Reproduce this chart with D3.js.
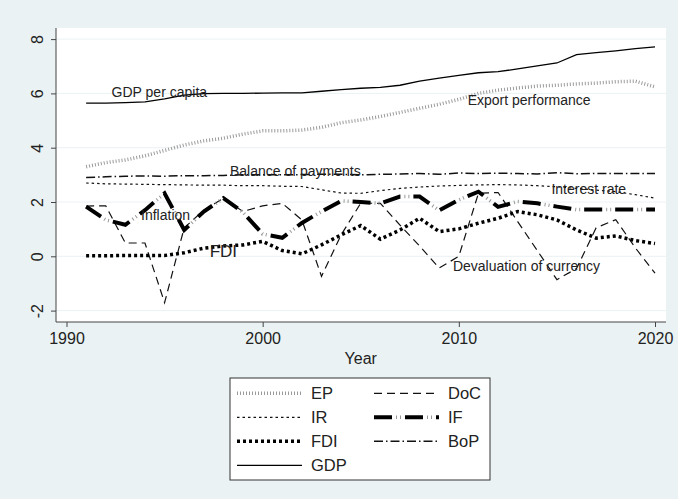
<!DOCTYPE html>
<html>
<head>
<meta charset="utf-8">
<script src="https://cdn.jsdelivr.net/npm/d3@7"></script>
<style>
  html, body { margin: 0; padding: 0; background: #eaf2f3; }
  svg { display: block; font-family: "Liberation Sans", Arial, sans-serif; }
</style>
</head>
<body>
<svg id="chart" width="678" height="499"></svg>
<script>
// Annual series, 1991-2020
const years = [1991,1992,1993,1994,1995,1996,1997,1998,1999,2000,
               2001,2002,2003,2004,2005,2006,2007,2008,2009,2010,
               2011,2012,2013,2014,2015,2016,2017,2018,2019,2020];

const EP  = [3.30,3.45,3.55,3.70,3.90,4.10,4.25,4.35,4.50,4.62,
             4.62,4.65,4.75,4.92,5.02,5.15,5.30,5.45,5.60,5.78,
             6.00,6.12,6.20,6.27,6.30,6.35,6.38,6.43,6.45,6.24];
const DoC = [1.85,1.86,0.49,0.49,-1.71,1.05,1.70,2.14,1.65,1.86,
             1.95,1.34,-0.74,0.79,1.96,1.95,1.15,0.38,-0.43,0.00,
             2.32,2.35,1.28,0.21,-0.86,-0.45,1.05,1.35,0.31,-0.62];
const IR  = [2.70,2.67,2.66,2.65,2.64,2.63,2.62,2.62,2.60,2.60,
             2.58,2.57,2.45,2.33,2.32,2.42,2.50,2.55,2.59,2.61,
             2.63,2.64,2.63,2.60,2.56,2.50,2.44,2.38,2.27,2.14];
const IF  = [1.83,1.34,1.16,1.70,2.32,0.97,1.65,2.14,1.62,0.82,
             0.68,1.23,1.65,2.04,2.00,1.95,2.20,2.20,1.69,2.08,
             2.38,1.82,2.02,1.95,1.83,1.72,1.72,1.72,1.72,1.72];
const FDI = [0.02,0.02,0.03,0.03,0.03,0.13,0.30,0.38,0.42,0.55,
             0.21,0.09,0.42,0.79,1.13,0.63,0.97,1.40,0.91,1.01,
             1.22,1.40,1.65,1.53,1.34,0.97,0.67,0.75,0.58,0.47];
const BoP = [2.90,2.93,2.95,2.96,2.95,2.97,2.97,2.98,3.00,3.00,
             3.00,3.01,3.02,3.02,3.00,3.02,3.03,3.05,3.02,3.07,
             3.05,3.06,3.05,3.03,3.08,3.04,3.05,3.05,3.05,3.05];
const GDP = [5.64,5.64,5.66,5.69,5.80,5.94,5.99,6.00,6.00,6.01,
             6.02,6.02,6.08,6.14,6.19,6.22,6.30,6.45,6.56,6.66,
             6.76,6.80,6.90,7.01,7.12,7.43,7.50,7.57,7.65,7.71];

const xTicks = [1990, 2000, 2010, 2020];
const yTicks = [-2, 0, 2, 4, 6, 8];

// In-plot annotations: text placed at (year, value)
const annoText  = ["GDP per capita", "Export performance", "Balance of payments",
                   "Interest rate", "Inflation", "FDI", "Devaluation of currency"];
const annoYear  = [1992.3, 2010.45, 1998.33, 2014.72, 1993.8, 1997.3, 2009.7];
const annoValue = [5.85, 5.57, 2.96, 2.31, 1.32, -0.03, -0.54];
const annoSize  = [14, 14, 14, 14, 14, 17, 14];

// Line styles per series
const styles = {
  EP:  [{stroke: "#9a9a9a", width: 3.5, dash: "1 2"}],
  DoC: [{stroke: "#111",    width: 1.2, dash: "8 5"}],
  IR:  [{stroke: "#111",    width: 1.2, dash: "2.5 3"}],
  IF:  [{stroke: "#000",    width: 4,   dash: "18 13"},
        {stroke: "#999",    width: 3.5, dash: "0 22 1 3 1 4"}],
  FDI: [{stroke: "#000",    width: 3.5, dash: "3 3"}],
  BoP: [{stroke: "#111",    width: 1.5, dash: "9 3 1.5 3"}],
  GDP: [{stroke: "#000",    width: 1.3, dash: null}]
};
const seriesData = {EP, DoC, IR, IF, FDI, BoP, GDP};

const svg = d3.select("#chart");
svg.append("rect").attr("width", 678).attr("height", 499).attr("fill", "#eaf2f3");

const x = d3.scaleLinear().domain([1990, 2020]).range([66.5, 655]);
const y = d3.scaleLinear().domain([-2, 8]).range([310.6, 39.1]);

// plot region
const plotL = 56, plotR = 666, plotT = 28, plotB = 322;
svg.append("rect").attr("x", plotL).attr("y", plotT)
  .attr("width", plotR - plotL).attr("height", plotB - plotT).attr("fill", "#fff");

// horizontal grid
svg.append("g").selectAll("line").data(yTicks).join("line")
  .attr("x1", plotL).attr("x2", plotR)
  .attr("y1", d => y(d)).attr("y2", d => y(d))
  .attr("stroke", "#eaf2f3").attr("stroke-width", 1);

// axes (plain hyphen for negatives)
const fmt = d => String(d);
const yAxis = svg.append("g").attr("transform", `translate(${plotL},0)`)
  .call(d3.axisLeft(y).tickValues(yTicks).tickSize(5).tickFormat(fmt));
yAxis.select(".domain").attr("d", `M0,${plotT}V${plotB}`).attr("stroke", "#444");
yAxis.selectAll(".tick line").attr("stroke", "#444");
yAxis.selectAll(".tick text")
  .attr("font-size", 16).attr("fill", "#222")
  .attr("x", null).attr("dy", null)
  .attr("text-anchor", "middle")
  .attr("transform", "translate(-13,0) rotate(-90)");

const xAxis = svg.append("g").attr("transform", `translate(0,${plotB})`)
  .call(d3.axisBottom(x).tickValues(xTicks).tickSize(5).tickFormat(fmt));
xAxis.select(".domain").attr("d", `M${plotL},0H${plotR}`).attr("stroke", "#444");
xAxis.selectAll(".tick line").attr("stroke", "#444");
xAxis.selectAll(".tick text").attr("font-size", 16).attr("fill", "#222").attr("y", 11);

svg.append("text").attr("x", x(2005)).attr("y", 364)
  .attr("text-anchor", "middle").attr("font-size", 16).attr("fill", "#222").text("Year");

// series lines
const line = d3.line().x((d, i) => x(years[i])).y(d => y(d));
const order = ["EP", "DoC", "IR", "IF", "FDI", "BoP", "GDP"];
const gLines = svg.append("g");
order.forEach(k => {
  styles[k].forEach(s => {
    gLines.append("path").datum(seriesData[k])
      .attr("d", line).attr("fill", "none")
      .attr("stroke", s.stroke).attr("stroke-width", s.width)
      .attr("stroke-dasharray", s.dash);
  });
});

// annotations
svg.append("g").selectAll("text").data(annoText).join("text")
  .attr("x", (d, i) => x(annoYear[i])).attr("y", (d, i) => y(annoValue[i]))
  .attr("font-size", (d, i) => annoSize[i]).attr("fill", "#222").text(d => d);

// legend
const leg = svg.append("g");
leg.append("rect").attr("x", 230).attr("y", 378).attr("width", 260).attr("height", 102)
  .attr("fill", "#fff").attr("stroke", "#333").attr("stroke-width", 1);
const legItems = [
  {key: "EP",  col: 0, row: 0}, {key: "DoC", col: 1, row: 0},
  {key: "IR",  col: 0, row: 1}, {key: "IF",  col: 1, row: 1},
  {key: "FDI", col: 0, row: 2}, {key: "BoP", col: 1, row: 2},
  {key: "GDP", col: 0, row: 3}
];
const colX = [237, 374], rowY0 = 393.3, rowStep = 24;
legItems.forEach(it => {
  const cy = rowY0 + it.row * rowStep, x0 = colX[it.col];
  styles[it.key].forEach(s => {
    leg.append("line").attr("x1", x0).attr("x2", x0 + 65).attr("y1", cy).attr("y2", cy)
      .attr("stroke", s.stroke).attr("stroke-width", s.width)
      .attr("stroke-dasharray", s.dash);
  });
  leg.append("text").attr("x", x0 + 74).attr("y", cy + 6)
    .attr("font-size", 16.5).attr("fill", "#222").text(it.key);
});
</script>
</body>
</html>
